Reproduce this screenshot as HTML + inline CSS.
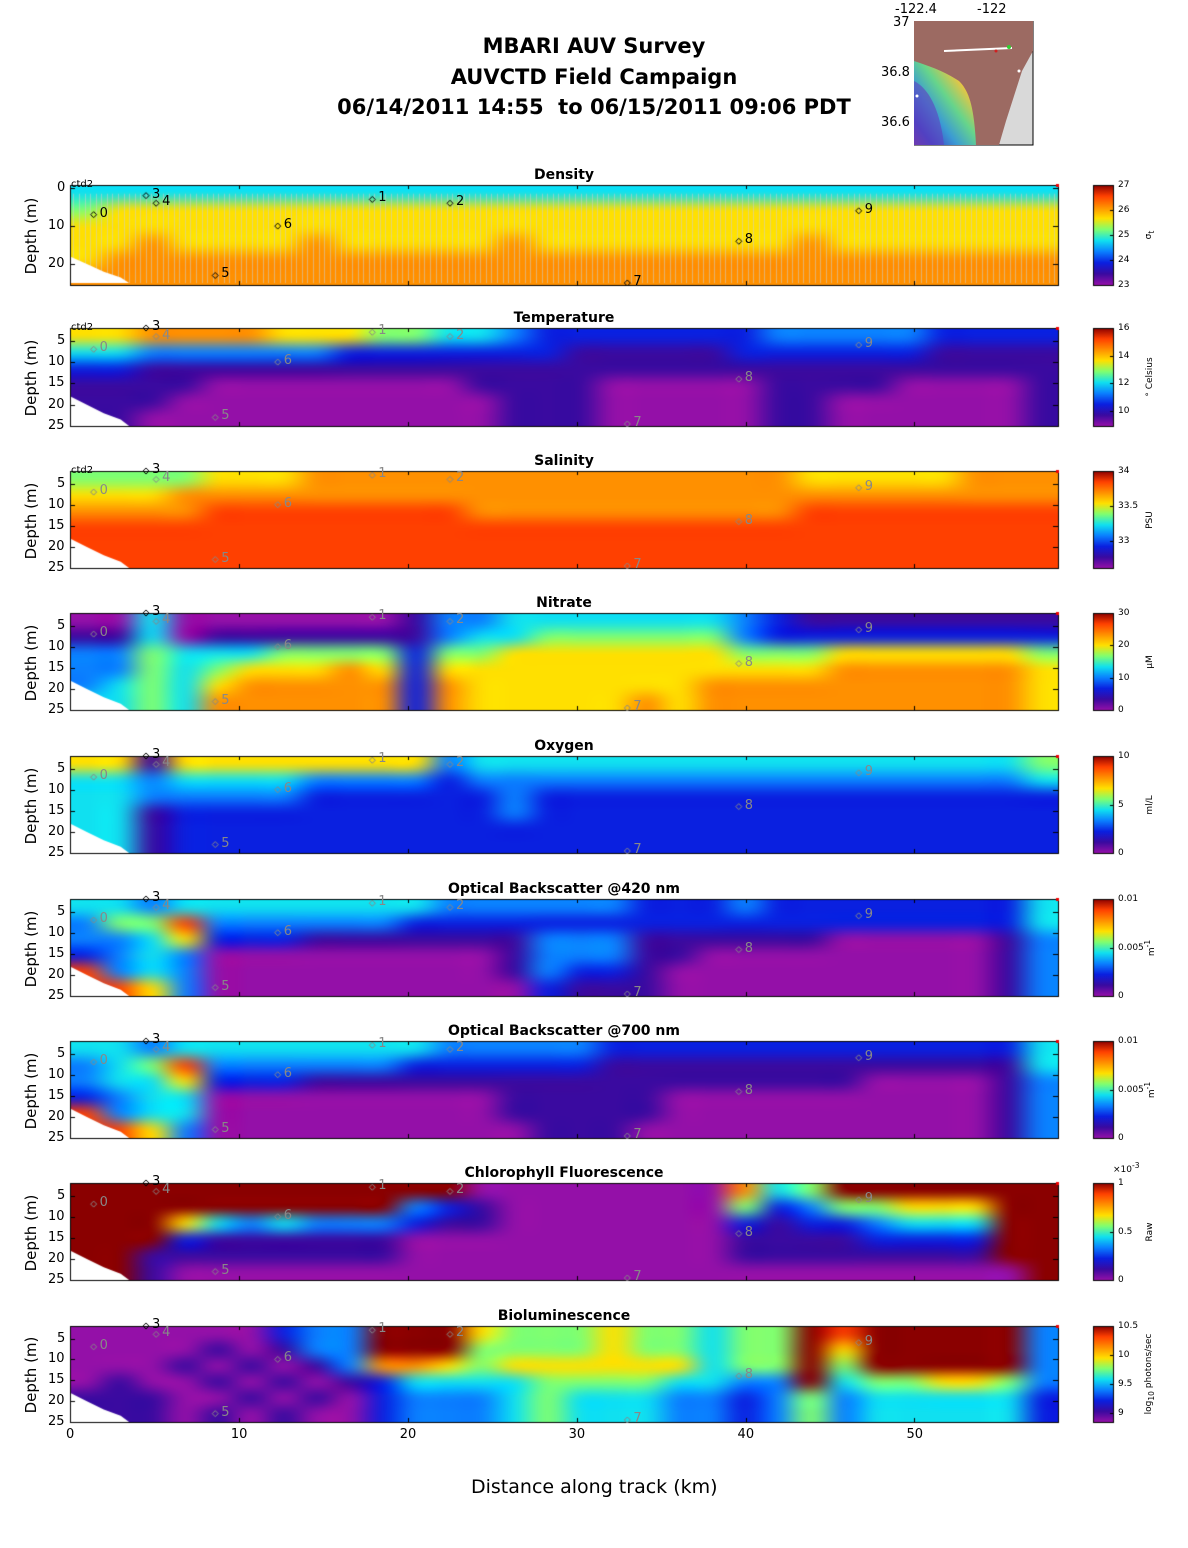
<!DOCTYPE html>
<html><head><meta charset="utf-8">
<style>
body{margin:0;background:#fff;font-family:"DejaVu Sans","Liberation Sans",sans-serif;}
#wrap{position:relative;width:1188px;height:1548px;overflow:hidden;background:#fff}
.t{position:absolute;white-space:nowrap;color:#000}
.main-title{font-weight:bold;font-size:21px;left:0;width:1188px;text-align:center}
.ptitle{font-weight:bold;font-size:14px;transform:translateX(-50%)}
.tick{font-size:13px}
.ylab{font-size:15px;transform:translate(-50%,-50%) rotate(-90deg)}
.cbt{font-size:9px}
.unit{font-size:9px;transform:translate(-50%,-50%) rotate(-90deg)}
canvas{position:absolute;left:0;top:0}
</style></head><body>
<div id="wrap">
<canvas id="cv" width="1188" height="1548"></canvas>
<div class="t main-title" style="top:34px">MBARI AUV Survey</div>
<div class="t main-title" style="top:65px">AUVCTD Field Campaign</div>
<div class="t main-title" style="top:95px">06/14/2011 14:55&nbsp; to 06/15/2011 09:06 PDT</div>
<svg style="position:absolute;left:914px;top:21px" width="120" height="125">
<defs><linearGradient id="bath" x1="1" y1="0" x2="0" y2="1">
<stop offset="0" stop-color="#c08070"/><stop offset="0.25" stop-color="#f0d040"/><stop offset="0.45" stop-color="#60e090"/><stop offset="0.65" stop-color="#30a0e0"/><stop offset="0.85" stop-color="#3040d0"/><stop offset="1" stop-color="#8030a0"/></linearGradient></defs>
<rect x="0" y="0" width="119" height="124" fill="#d9d9d9" stroke="#000"/>
<path d="M0,0 L119,0 L119,30 L108,50 L100,75 L92,100 L85,124 L0,124 Z" fill="#9c6a62"/>
<path d="M0,40 C15,45 30,50 45,60 C55,70 60,85 62,124 L0,124 Z" fill="url(#bath)" opacity="0.9"/>
<path d="M0,60 C10,65 25,80 30,124 L0,124 Z" fill="#6040c0" opacity="0.6"/>
<path d="M30,30 L98,27" stroke="#fff" stroke-width="2"/>
<circle cx="95" cy="26" r="2" fill="#30d030"/><circle cx="82" cy="30" r="1.5" fill="#d02020"/>
<circle cx="105" cy="50" r="1.5" fill="#fff"/><circle cx="3" cy="75" r="1.5" fill="#fff"/>
</svg>
<div class="t tick" style="left:895px;top:2px">-122.4</div>
<div class="t tick" style="left:977px;top:2px">-122</div>
<div class="t tick" style="left:893px;top:15px">37</div>
<div class="t tick" style="left:881px;top:65px">36.8</div>
<div class="t tick" style="left:881px;top:115px">36.6</div>
<div class="t" style="left:471px;top:1476px;font-size:19px">Distance along track (km)</div>
</div>
<script>
// ---- data: digit levels 0-9 per depth row (top -> bottom), columns span 0..58.5 km ----
const densityRows=["444444444444444444444444444444","566666666666666666666666666666","666666666666666666666666666666","667666676666676666666676666666","677777777777777777777777777777","777777777777777777777777777777"];
const temperatureRows=["667777666554432222222333332222","443333332222222111112222221111","221111111111111111111111111111","111100000000111100000111100001","111000000000011100000110000001","110000000000011100000110000001"];
const salinityRows=["555566677777777777777766666777","666777777777777777777777777777","777788888888777777777788888888","888888888888888888888888888888","888888888888888888888888888888","888888888888888888888888888888"];
const nitrateRows=["004000000013344444443211111111","114011111113445555553222222222","335444555525566666665556666665","335456667626666666666667777776","345467777727666666677777777776","445477777727666667677777777776"];
const oxygenRows=["661666666663444444444444444445","443444433332333333333333333334","443333322222232222222222222222","441222222222232222222222222222","441222222222222222222222222222","441222222222222222222222222222"];
const bb420Rows=["443444444443333332223222222224","355833333322222222222222222224","334622211111113331111110000013","234300000000013331100000000013","834300000000013221000000000013","886300000000002111000000000013"];
const bb700Rows=["443444444443333322222222222224","345833333322222211111111111114","344622211111111111111111000013","234400000000011111000000000013","834400000000011111000000000013","886300000000001110000000000013"];
const chlRows=["999999999999000000007459999999","999999999932100000005235566699","999643433321100000002122344499","999211111100000000001111222299","991111111100000000001111111199","991000000000000000000000000009"];
const biolumRows=["000000233999655565545598999993","000010133999555565545596999993","000101013776566666645595999993","010010101244445555443394556653","111001010233345444332353444442","111010100233345444332353444442"];
const xTicks=[0,10,20,30,40,50];
const markerLabels=["0","1","2","3","4","5","6","7","8","9"];
const markerKm=[1.4,17.9,22.5,4.5,5.1,8.6,12.3,33.0,39.6,46.7];
const markerDepth=[7,3,4,2,4,23,10,25,14,6];
const seafloorKm=[0,1,2,3,3.5,0];
const seafloorDepth=[18,20,22,23.5,25,25];

const cmap=["#9410a8","#3a0aa0","#0a20e0","#0a80ff","#10e0f0","#80ff70","#ffe000","#ff9000","#ff4000","#8a0000"];
const panels=[
 {key:"density",title:"Density",rows:densityRows,top:185,h:100,dmin:-0.8,dmax:25.5,yt:[0,10,20],cb:[23,27],cbt:[23,24,25,26,27],unit:"σ<sub>t</sub>",ctd:true},
 {key:"temperature",title:"Temperature",rows:temperatureRows,top:328,h:98,dmin:2,dmax:25,yt:[5,10,15,20,25],cb:[8.9,16],cbt:[10,12,14,16],unit:"° Celsius",ctd:true},
 {key:"salinity",title:"Salinity",rows:salinityRows,top:471,h:97,dmin:2,dmax:25,yt:[5,10,15,20,25],cb:[32.61,34],cbt:[33,33.5,34],unit:"PSU",ctd:true},
 {key:"nitrate",title:"Nitrate",rows:nitrateRows,top:613,h:97,dmin:2,dmax:25,yt:[5,10,15,20,25],cb:[0,30],cbt:[0,10,20,30],unit:"μM"},
 {key:"oxygen",title:"Oxygen",rows:oxygenRows,top:756,h:97,dmin:2,dmax:25,yt:[5,10,15,20,25],cb:[0,10],cbt:[0,5,10],unit:"ml/L"},
 {key:"backscatter-420",title:"Optical Backscatter @420 nm",rows:bb420Rows,top:899,h:97,dmin:2,dmax:25,yt:[5,10,15,20,25],cb:[0,0.01],cbt:[0,0.005,0.01],unit:"m<sup>-1</sup>"},
 {key:"backscatter-700",title:"Optical Backscatter @700 nm",rows:bb700Rows,top:1041,h:97,dmin:2,dmax:25,yt:[5,10,15,20,25],cb:[0,0.01],cbt:[0,0.005,0.01],unit:"m<sup>-1</sup>"},
 {key:"chlorophyll",title:"Chlorophyll Fluorescence",rows:chlRows,top:1183,h:97,dmin:2,dmax:25,yt:[5,10,15,20,25],cb:[0,1],cbt:[0,0.5,1],unit:"Raw",exp:true},
 {key:"bioluminescence",title:"Bioluminescence",rows:biolumRows,top:1326,h:96,dmin:2,dmax:25,yt:[5,10,15,20,25],cb:[8.85,10.5],cbt:[9,9.5,10,10.5],unit:"log<sub>10</sub> photons/sec"}
];
const X0=70,X1=1058,KMAX=58.5;
const xS=km=>X0+km/KMAX*(X1-X0);
const wrap=document.getElementById('wrap');
const ctx=document.getElementById('cv').getContext('2d');
function hex(c){return [parseInt(c.slice(1,3),16),parseInt(c.slice(3,5),16),parseInt(c.slice(5,7),16)];}
function txt(cls,html,l,t,name,extra){const d=document.createElement('div');d.className='t '+cls;d.innerHTML=html;d.style.left=l+'px';d.style.top=t+'px';if(extra)d.style.cssText+=extra;


wrap.appendChild(d);return d;}
panels.forEach(p=>{
 const yS=d=>p.top+(d-p.dmin)/(p.dmax-p.dmin)*p.h;
 const W=X1-X0,H=p.h;
 const nc=p.rows[0].length,nr=p.rows.length,kw=KMAX/nc,dz=(p.dmax-p.dmin)/nr;
 const off=document.createElement('canvas');off.width=nc+2;off.height=nr+2;const o=off.getContext('2d');
 const img=o.createImageData(nc+2,nr+2);
 for(let r=0;r<nr+2;r++)for(let c=0;c<nc+2;c++){const rr=Math.min(nr-1,Math.max(0,r-1)),cc=Math.min(nc-1,Math.max(0,c-1));
  const v=+p.rows[rr][cc];const rgb=hex(cmap[v]);const i=(r*(nc+2)+c)*4;img.data[i]=rgb[0];img.data[i+1]=rgb[1];img.data[i+2]=rgb[2];img.data[i+3]=255;}
 o.putImageData(img,0,0);
 ctx.save();ctx.beginPath();ctx.rect(X0,p.top,W,H);ctx.clip();
 ctx.imageSmoothingEnabled=true;ctx.imageSmoothingQuality='high';
 const xa=xS(-kw),xb=xS(KMAX+kw),ya=yS(p.dmin-dz),yb=yS(p.dmax+dz);
 ctx.drawImage(off,0,0,nc+2,nr+2,xa,ya,xb-xa,yb-ya);
 if(p.key==='density'){ctx.strokeStyle='rgba(205,205,205,0.55)';ctx.lineWidth=1;
  for(let k=0.2;k<KMAX;k+=0.33){ctx.beginPath();ctx.moveTo(Math.round(xS(k))+0.5,yS(1.5));ctx.lineTo(Math.round(xS(k))+0.5,yS(25));ctx.stroke();}}
 ctx.fillStyle='#fff';ctx.beginPath();seafloorKm.forEach((k,i)=>{const x=xS(k),y=yS(seafloorDepth[i]);i?ctx.lineTo(x,y):ctx.moveTo(x,y);});ctx.closePath();ctx.fill();
 ctx.restore();
 ctx.strokeStyle='#000';ctx.lineWidth=1;ctx.strokeRect(X0+0.5,p.top+0.5,W,H);
 xTicks.forEach(k=>{const x=Math.round(xS(k))+0.5;ctx.beginPath();ctx.moveTo(x,p.top+H);ctx.lineTo(x,p.top+H-4);ctx.moveTo(x,p.top);ctx.lineTo(x,p.top+4);ctx.stroke();});
 p.yt.forEach(d=>{const y=Math.round(yS(d))+0.5;ctx.beginPath();ctx.moveTo(X0,y);ctx.lineTo(X0+5,y);ctx.moveTo(X1,y);ctx.lineTo(X1-5,y);ctx.stroke();
  txt('tick',String(d),d>=10?48:57,y-9,p.key+'-y-tick-'+d);});
 txt('ptitle',p.title,564,p.top-18,p.key+'-panel-title');
 txt('ylab','Depth (m)',31,p.top+H/2+1,p.key+'-y-axis-title');
 if(p.ctd)txt('cbt','ctd2',71,p.top-6,p.key+'-ctd-label',';font-size:10px');
 markerLabels.forEach((m,i)=>{const x=xS(markerKm[i]),y=Math.min(yS(markerDepth[i]),p.top+H-2);
  const col=(p.key==='density'||(m==='3'))?'#000':'#888';
  ctx.strokeStyle=col;ctx.beginPath();ctx.moveTo(x,y-3);ctx.lineTo(x+3,y);ctx.lineTo(x,y+3);ctx.lineTo(x-3,y);ctx.closePath();ctx.stroke();
  txt('tick',m,x+6,y-9,p.key+'-waypoint-'+m,';color:'+col);});
 ctx.strokeStyle='#000';
 const cx=1093,cw=20;const g=ctx.createLinearGradient(0,p.top+H,0,p.top);cmap.forEach((c,i)=>g.addColorStop(i/(cmap.length-1),c));
 ctx.fillStyle=g;ctx.fillRect(cx,p.top,cw,H);ctx.strokeRect(cx+0.5,p.top+0.5,cw,H);
 const cy=v=>p.top+H-(v-p.cb[0])/(p.cb[1]-p.cb[0])*H;
 p.cbt.forEach(v=>{const y=Math.round(cy(v))+0.5;ctx.beginPath();ctx.moveTo(cx+cw,y);ctx.lineTo(cx+cw-3,y);ctx.stroke();
  txt('cbt',String(v),cx+cw+5,y-6,p.key+'-colorbar-tick-'+v);});
 txt('unit',p.unit,1150,p.top+H/2,p.key+'-colorbar-unit');
 if(p.exp)txt('cbt','×10<sup>-3</sup>',1113,p.top-22,p.key+'-colorbar-exponent');
 ctx.fillStyle='#e00';ctx.fillRect(X1-2,p.top-1,3,3);
});
const last=panels[panels.length-1];
xTicks.forEach(k=>txt('tick',String(k),xS(k)-(k?8:4),last.top+last.h+5,'x-tick-'+k));
</script>
</body></html>
